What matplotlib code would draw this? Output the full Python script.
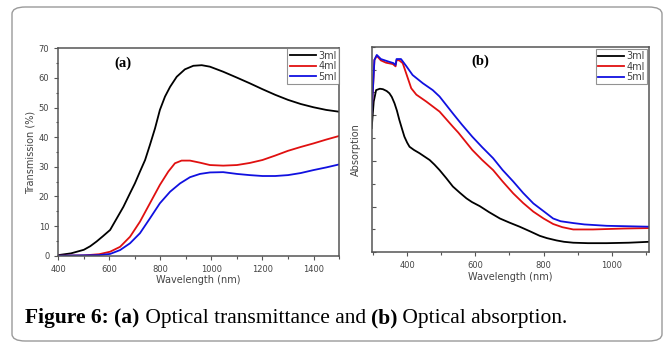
import matplotlib
matplotlib.use("Agg")
import matplotlib.pyplot as plt
from matplotlib.patches import FancyBboxPatch
from matplotlib.ticker import MultipleLocator

# (a) transmission
wl_a = [400, 450, 500, 525, 550, 575, 603, 629, 655, 681, 700, 720, 740, 759, 779,
        798, 818, 838, 864, 896, 929, 962, 994, 1046, 1100, 1150, 1200, 1250, 1300,
        1350, 1400, 1450, 1500]
t_3ml = [0.2, 0.8, 2.0, 3.2, 4.8, 6.6, 8.7, 12.6, 16.5, 21.1, 24.4, 28.4, 32.3,
         37.4, 43.0, 49.2, 53.7, 57.0, 60.4, 62.9, 64.1, 64.3, 63.8, 62.1, 60.1,
         58.2, 56.2, 54.3, 52.6, 51.2, 50.1, 49.2, 48.6]
wl_a2 = [400, 500, 560, 603, 642, 681, 720, 759, 798, 831, 857, 883, 916, 955, 994,
         1046, 1100, 1150, 1200, 1250, 1300, 1350, 1400, 1450, 1500]
t_4ml = [0.0, 0.1, 0.5, 1.35, 3.0, 6.4, 11.5, 17.7, 23.9, 28.4, 31.2, 32.1, 32.1,
         31.4, 30.6, 30.4, 30.6, 31.3, 32.3, 33.8, 35.4, 36.7, 37.9, 39.2, 40.4]
wl_a3 = [400, 560, 603, 642, 681, 720, 759, 798, 838, 877, 916, 955, 994, 1046,
         1100, 1150, 1200, 1250, 1300, 1350, 1400, 1450, 1500]
t_5ml = [0.0, 0.2, 0.6, 1.9, 4.2, 7.6, 12.6, 17.7, 21.6, 24.4, 26.5, 27.6, 28.1,
         28.2, 27.6, 27.2, 26.9, 26.9, 27.2, 27.9, 28.9, 29.8, 30.8]

# (b) absorption (arbitrary units)
wl_b3 = [296, 302, 309, 320, 329, 340, 348, 355, 363, 370, 377, 385, 392, 400,
         407, 420, 436, 450, 466, 480, 495, 515, 534, 555, 574, 590, 613, 640,
         672, 700, 730, 760, 789, 810, 838, 860, 887, 930, 985, 1050, 1110]
a_3ml = [2.72, 3.30, 3.55, 3.58, 3.57, 3.53, 3.48, 3.40, 3.26, 3.10, 2.90, 2.70,
         2.53, 2.40, 2.31, 2.24, 2.17, 2.10, 2.02, 1.92, 1.80, 1.62, 1.44, 1.30,
         1.18, 1.10, 1.01, 0.88, 0.74, 0.65, 0.56, 0.46, 0.36, 0.31, 0.26, 0.23,
         0.21, 0.20, 0.20, 0.21, 0.23]
wl_b4 = [296, 304, 311, 323, 338, 358, 366, 369, 377, 387, 397, 412, 427, 456,
         495, 534, 550, 591, 620, 652, 680, 711, 740, 770, 800, 828, 855, 887, 900,
         945, 1034, 1110]
a_4ml = [3.04, 4.21, 4.30, 4.20, 4.15, 4.12, 4.07, 4.21, 4.20, 4.14, 3.92, 3.59,
         3.45, 3.30, 3.08, 2.75, 2.62, 2.24, 2.02, 1.80, 1.55, 1.29, 1.08, 0.89,
         0.74, 0.62, 0.55, 0.50, 0.50, 0.50, 0.52, 0.53]
wl_b5 = [296, 304, 311, 323, 343, 360, 366, 369, 382, 397, 416, 446, 475, 495,
         534, 560, 591, 620, 652, 680, 711, 740, 770, 800, 828, 850, 887, 920, 985,
         1110]
a_5ml = [3.04, 4.21, 4.32, 4.23, 4.18, 4.14, 4.10, 4.23, 4.23, 4.08, 3.88, 3.70,
         3.55, 3.41, 3.04, 2.80, 2.53, 2.30, 2.06, 1.80, 1.55, 1.30, 1.07, 0.90,
         0.74, 0.68, 0.64, 0.61, 0.58, 0.56]

labels = ["3ml", "4ml", "5ml"]
colors = ["black", "#e01010", "#1010e0"]

fig = plt.figure(figsize=(6.72, 3.47), dpi=100)
fig.patch.set_facecolor("white")

# rounded frame around figure + caption
frame = FancyBboxPatch((12 / 672, 6 / 347), 650 / 672, 334 / 347,
                       boxstyle="round,pad=0,rounding_size=0.02",
                       transform=fig.transFigure, facecolor="none",
                       edgecolor="#9a9a9a", linewidth=1.0)
fig.patches.append(frame)

ax1 = fig.add_axes([0.0868, 0.2631, 0.4177, 0.5977])
ax2 = fig.add_axes([0.5531, 0.2729, 0.4131, 0.5925])

spine_col = "#555555"
txt_col = "#444444"


def style(ax):
    for s in ax.spines.values():
        s.set_color(spine_col)
        s.set_linewidth(1.1)
    ax.tick_params(which="both", colors=spine_col, labelcolor=txt_col,
                   labelsize=6, width=0.8)
    ax.tick_params(which="major", length=3)
    ax.tick_params(which="minor", length=1.8)


def legend(ax, pad):
    leg = ax.legend(loc="upper right", fontsize=7, frameon=True, fancybox=False,
                    borderaxespad=pad, handlelength=2.7, handletextpad=0.2,
                    labelspacing=0.05, borderpad=0.25)
    leg.get_frame().set_edgecolor("#777777")
    leg.get_frame().set_linewidth(0.8)
    for t in leg.get_texts():
        t.set_color(txt_col)


ax1.plot(wl_a, t_3ml, color=colors[0], lw=1.3, label=labels[0])
ax1.plot(wl_a2, t_4ml, color=colors[1], lw=1.3, label=labels[1])
ax1.plot(wl_a3, t_5ml, color=colors[2], lw=1.3, label=labels[2])
ax1.set_xlim(400, 1500)
ax1.set_ylim(0, 70)
ax1.xaxis.set_major_locator(MultipleLocator(200))
ax1.xaxis.set_minor_locator(MultipleLocator(100))
ax1.yaxis.set_major_locator(MultipleLocator(10))
ax1.yaxis.set_minor_locator(MultipleLocator(5))
style(ax1)
ax1.set_xlabel("Wavelength (nm)", fontsize=7, color=txt_col, labelpad=1)
ax1.set_ylabel("Transmission (%)", fontsize=7, color=txt_col, labelpad=2)
ax1.text(0.23, 0.93, "(a)", transform=ax1.transAxes, fontsize=10.5,
         fontweight="bold", family="Liberation Serif", va="center", ha="center")
legend(ax1, 0.0)

ax2.plot(wl_b3, a_3ml, color=colors[0], lw=1.3, label=labels[0])
ax2.plot(wl_b4, a_4ml, color=colors[1], lw=1.3, label=labels[1])
ax2.plot(wl_b5, a_5ml, color=colors[2], lw=1.3, label=labels[2])
ax2.set_xlim(296, 1110)
ax2.set_ylim(0, 4.5)
ax2.xaxis.set_major_locator(MultipleLocator(200))
ax2.xaxis.set_minor_locator(MultipleLocator(100))
ax2.yaxis.set_major_locator(MultipleLocator(1))
ax2.yaxis.set_minor_locator(MultipleLocator(0.5))
style(ax2)
ax2.tick_params(axis="y", which="both", direction="in")
ax2.set_yticklabels([])
ax2.set_xlabel("Wavelength (nm)", fontsize=7, color=txt_col, labelpad=1)
ax2.set_ylabel("Absorption", fontsize=7, color=txt_col, labelpad=4)
ax2.text(0.39, 0.93, "(b)", transform=ax2.transAxes, fontsize=10.5,
         fontweight="bold", family="Liberation Serif", va="center", ha="center")
legend(ax2, 0.2)

# caption
cap_y = 1 - 318 / 347
x0 = 25 / 672
parts = [("Figure 6: ", "bold"), ("(a)", "bold"), (" Optical transmittance and ", "normal"),
         ("(b)", "bold"), (" Optical absorption.", "normal")]
renderer = fig.canvas.get_renderer()
x = x0
for s, w in parts:
    t = fig.text(x, cap_y, s, fontsize=15.5, fontweight=w,
                 family="Liberation Serif", va="center", ha="left")
    bb = t.get_window_extent(renderer=renderer)
    x += bb.width / fig.bbox.width

fig.savefig("out.png", dpi=100)
